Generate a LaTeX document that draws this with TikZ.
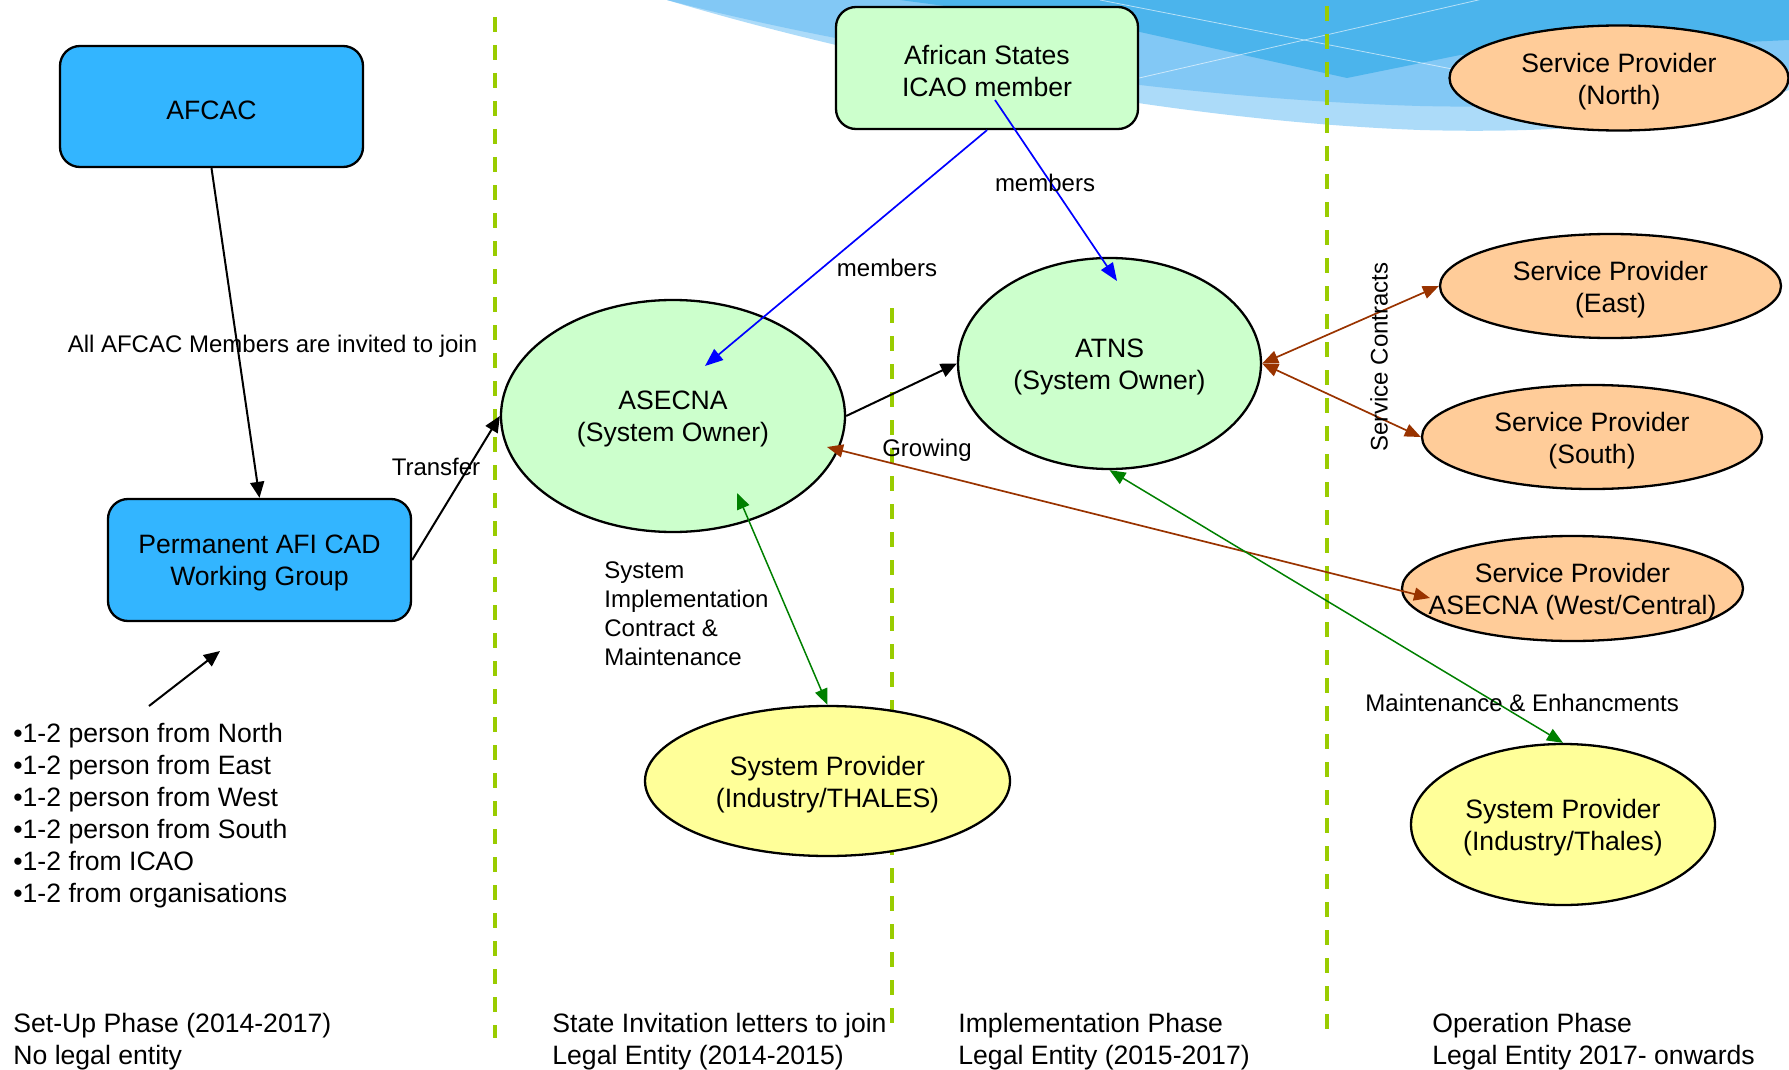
\documentclass[tikz,border=0pt]{standalone}
\usepackage{fontspec}
\setmainfont{Liberation Sans}
\usetikzlibrary{shapes.geometric,arrows.meta}
\definecolor{boxblue}{RGB}{51,181,255}
\definecolor{lightgreen}{RGB}{204,255,204}
\definecolor{lightorange}{RGB}{255,204,153}
\definecolor{lightyellow}{RGB}{255,255,153}
\definecolor{brownarr}{RGB}{153,51,0}
\definecolor{greenarr}{RGB}{0,128,0}
\definecolor{phasegreen}{RGB}{153,204,0}
\definecolor{wavedark}{RGB}{75,180,236}
\definecolor{wavemid}{RGB}{130,200,245}
\definecolor{wavelight}{RGB}{172,219,249}
\begin{document}
\begin{tikzpicture}[x=0.5pt,y=-0.5pt,
  bigtxt/.style={font=\fontsize{13.3pt}{16pt}\selectfont},
  smalltxt/.style={font=\fontsize{12pt}{14.5pt}\selectfont},
  intext/.style={bigtxt, align=center, inner sep=0pt, yshift=-1.7pt},
  rbox/.style={draw=black, line width=1.15pt, rounded corners=10pt, inner sep=0pt},
  ell/.style={ellipse, draw=black, line width=1.15pt, inner sep=0pt},
  phaseline/.style={draw=phasegreen, line width=2pt, dash pattern=on 7.5pt off 6.5pt},
  arr/.style={-{Triangle[length=8pt,width=7pt]}, line width=1pt, black},
  barr/.style={-{Triangle[length=9pt,width=7pt]}, line width=0.85pt, blue},
  brarr/.style={{Triangle[length=8pt,width=6.5pt]}-{Triangle[length=8pt,width=6.5pt]}, line width=0.85pt, brownarr},
  garr/.style={{Triangle[length=8pt,width=6.5pt]}-{Triangle[length=8pt,width=6.5pt]}, line width=0.75pt, greenarr},
  lbl/.style={smalltxt, inner sep=0pt},
  btxt/.style={bigtxt, inner sep=0pt, align=left, anchor=west}
]
\useasboundingbox (0,0) rectangle (1789,1070);

% background wave
\fill[wavelight]
  (667,0) .. controls (850,55) and (1150,120) .. (1420,130)
  .. controls (1600,135) and (1720,115) .. (1789,90) -- (1789,0) -- cycle;
\fill[wavemid]
  (667,0) .. controls (850,48) and (1150,98) .. (1420,106)
  .. controls (1600,110) and (1720,95) .. (1789,70) -- (1789,0) -- cycle;
\fill[wavedark] (900,0) -- (1140,32) -- (1347,78) -- (1460,55) -- (1789,40) -- (1789,0) -- cycle;
\begin{scope}
  \clip (667,0) .. controls (850,55) and (1150,120) .. (1420,130)
  .. controls (1600,135) and (1720,115) .. (1789,90) -- (1789,0) -- cycle;
  \draw[white, opacity=0.6, line width=0.4pt] (1100,0) -- (1789,135);
  \draw[white, opacity=0.6, line width=0.4pt] (1000,110) -- (1500,-5);
\end{scope}

% phase separators
\draw[phaseline] (495,17) -- (495,1038);
\draw[phaseline] (892,308) -- (892,1027);
\draw[phaseline] (1327,6) -- (1327,1033);

% nodes
\node[rbox, fill=boxblue, minimum width=151.5pt, minimum height=60.5pt,
  label={[intext]center:AFCAC}] (afcac) at (211.5,106.5) {};
\node[rbox, fill=boxblue, minimum width=151.5pt, minimum height=61pt,
  label={[intext]center:{Permanent AFI CAD\\Working Group}}] (wg) at (259.5,560) {};
\node[rbox, fill=lightgreen, minimum width=151pt, minimum height=61pt,
  label={[intext]center:{African States\\ICAO member}}] (states) at (987,68) {};
\node[ell, fill=lightorange, minimum width=169.5pt, minimum height=52.5pt,
  label={[intext]center:{Service Provider\\(North)}}] (north) at (1619,78) {};
\node[ell, fill=lightgreen, minimum width=172pt, minimum height=116pt,
  label={[intext]center:{ASECNA\\(System Owner)}}] (asecna) at (673,416) {};
\node[ell, fill=lightgreen, minimum width=151.5pt, minimum height=105.5pt,
  label={[intext]center:{ATNS\\(System Owner)}}] (atns) at (1109.5,363.5) {};
\node[ell, fill=lightorange, minimum width=170.5pt, minimum height=52pt,
  label={[intext]center:{Service Provider\\(East)}}] (east) at (1610.5,286) {};
\node[ell, fill=lightorange, minimum width=170pt, minimum height=52pt,
  label={[intext]center:{Service Provider\\(South)}}] (south) at (1592,437) {};
\node[ell, fill=lightorange, minimum width=170.5pt, minimum height=52.5pt,
  label={[intext]center:{Service Provider\\ASECNA (West/Central)}}] (westc) at (1572.5,588.5) {};
\node[ell, fill=lightyellow, minimum width=182.5pt, minimum height=75pt,
  label={[intext]center:{System Provider\\(Industry/THALES)}}] (thales) at (827.5,781) {};
\node[ell, fill=lightyellow, minimum width=152pt, minimum height=80.5pt,
  label={[intext]center:{System Provider\\(Industry/Thales)}}] (thales2) at (1563,824.5) {};

% helper coordinates
\coordinate (listtail) at (149,706);
\coordinate (listhead) at (220,651);
\coordinate (asecnatip) at (705,366);
\coordinate (statesin) at (995,100);
\coordinate (atnstip) at (1117,281);
\coordinate (grow1) at (827,447);
\coordinate (grow2) at (1430,598);
\coordinate (sic) at (737,493);

% connectors
\draw[arr] (afcac.south) -- (wg.north);
\draw[arr] (listtail) -- (listhead);
\draw[arr] (wg.east) -- (asecna.west);
\draw[arr] (asecna.east) -- (atns.west);
\draw[barr] (states.south) -- (asecnatip);
\draw[barr] (statesin) -- (atnstip);
\draw[brarr] (atns.east) -- (east.west);
\draw[brarr] (atns.east) -- (south.west);
\draw[brarr] (grow1) -- (grow2);
\draw[garr] (sic) -- (thales.north);
\draw[garr] (atns.south) -- (thales2.north);

% labels
\node[lbl] (lbljoin) at (272.5,346.5) {All AFCAC Members are invited to join};
\node[lbl] (lbltransfer) at (436,467) {Transfer};
\node[lbl] (lblmem1) at (887,268) {members};
\node[lbl] (lblmem2) at (1045,183) {members};
\node[lbl] (lblgrow) at (927,450) {Growing};
\node[lbl, align=left, anchor=west] (lblsic) at (604,613.5) {System\\Implementation\\Contract \&\\Maintenance};
\node[lbl, rotate=90] (lblsc) at (1379,357) {Service Contracts};
\node[lbl, anchor=west] (lblmaint) at (1365,703) {Maintenance \& Enhancments};

\node[btxt] (members) at (13,816) {•1-2 person from North\\•1-2 person from East\\•1-2 person from West\\•1-2 person from South\\•1-2 from ICAO\\•1-2 from organisations};

\node[btxt] (ph1) at (13,1041.5) {Set-Up Phase (2014-2017)\\No legal entity};
\node[btxt] (ph2) at (552,1041.5) {State Invitation letters to join\\Legal Entity (2014-2015)};
\node[btxt] (ph3) at (958,1041.5) {Implementation Phase\\Legal Entity (2015-2017)};
\node[btxt] (ph4) at (1432,1041.5) {Operation Phase\\Legal Entity 2017- onwards};
\end{tikzpicture}
\end{document}
